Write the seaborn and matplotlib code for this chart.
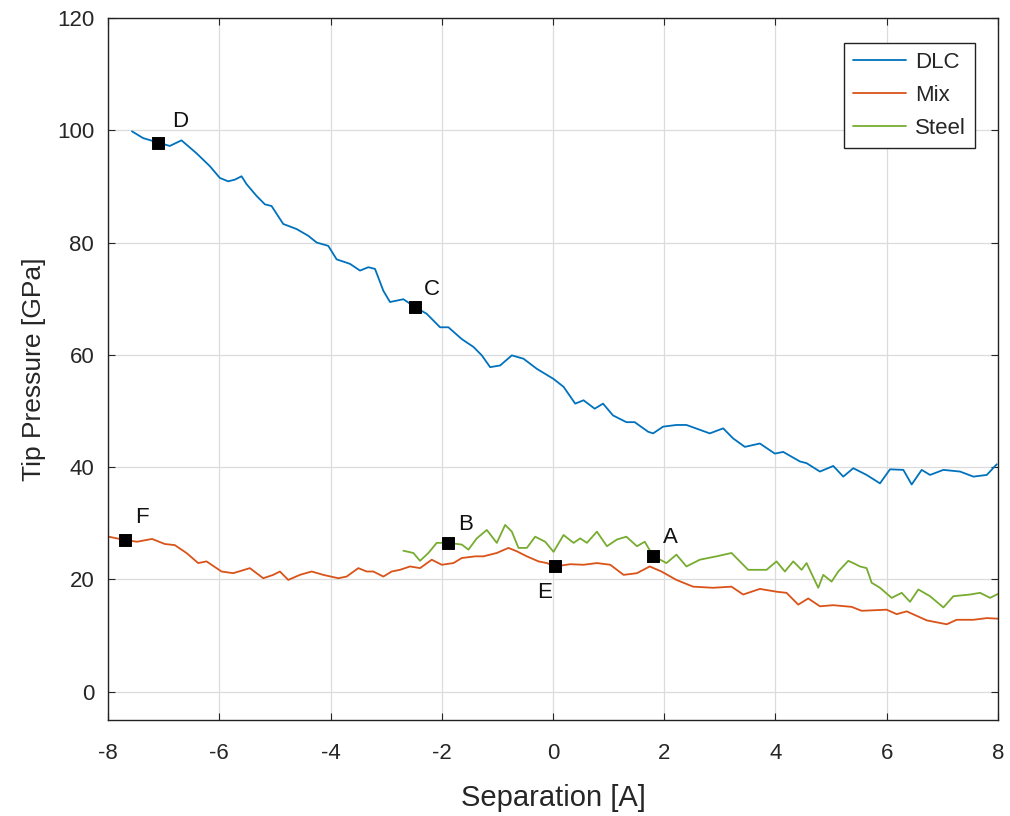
import matplotlib
matplotlib.use("Agg")
import matplotlib.pyplot as plt
import seaborn as sns
import pandas as pd
import numpy as np

# DLC curve (separation [A], tip pressure [GPa])
dlc_x = [-7.57, -7.37, -7.10, -6.89, -6.68, -6.41, -6.17, -5.99, -5.84, -5.72, -5.60, -5.51,
         -5.33, -5.18, -5.06, -4.85, -4.61, -4.40, -4.25, -4.04, -3.89, -3.65, -3.47, -3.32,
         -3.20, -3.05, -2.93, -2.69, -2.48, -2.27, -2.03, -1.88, -1.64, -1.43, -1.28, -1.13,
         -0.95, -0.74, -0.53, -0.29, 0.01, 0.19, 0.40, 0.55, 0.75, 0.90, 1.08, 1.32, 1.47,
         1.71, 1.80, 1.98, 2.22, 2.40, 2.82, 3.06, 3.24, 3.45, 3.72, 3.99, 4.14, 4.44, 4.56,
         4.80, 5.04, 5.22, 5.40, 5.64, 5.88, 6.06, 6.30, 6.45, 6.63, 6.78, 7.02, 7.32, 7.56,
         7.80, 7.98]
dlc_y = [99.8, 98.6, 97.8, 97.2, 98.2, 95.9, 93.6, 91.5, 90.9, 91.2, 91.8, 90.4,
         88.3, 86.8, 86.5, 83.3, 82.4, 81.2, 80.0, 79.4, 77.0, 76.2, 75.0, 75.6,
         75.3, 71.4, 69.4, 69.9, 68.5, 67.3, 64.9, 64.9, 62.8, 61.4, 59.9, 57.8,
         58.1, 59.9, 59.3, 57.5, 55.7, 54.3, 51.3, 51.9, 50.4, 51.3, 49.2, 48.0, 48.0,
         46.3, 46.0, 47.2, 47.5, 47.5, 46.0, 46.9, 45.1, 43.6, 44.2, 42.4, 42.7, 41.0, 40.7,
         39.2, 40.2, 38.3, 39.8, 38.6, 37.1, 39.6, 39.5, 36.9, 39.5, 38.6, 39.5, 39.2, 38.3,
         38.6, 40.5]

# Mix curve
mix_x = [-7.99, -7.69, -7.48, -7.21, -6.98, -6.80, -6.59, -6.38, -6.23, -5.96, -5.75, -5.45,
         -5.21, -5.03, -4.91, -4.76, -4.55, -4.34, -4.13, -3.86, -3.71, -3.50, -3.35, -3.23,
         -3.05, -2.90, -2.75, -2.57, -2.39, -2.18, -2.00, -1.79, -1.64, -1.40, -1.25, -1.01,
         -0.80, -0.65, -0.47, -0.26, -0.11, 0.04, 0.31, 0.55, 0.79, 1.03, 1.27, 1.51, 1.74,
         1.95, 2.22, 2.52, 2.88, 3.21, 3.42, 3.72, 4.02, 4.20, 4.41, 4.59, 4.80, 5.04, 5.37,
         5.55, 6.00, 6.18, 6.36, 6.72, 7.08, 7.26, 7.56, 7.80, 8.00]
mix_y = [27.6, 27.0, 26.7, 27.2, 26.3, 26.1, 24.7, 22.9, 23.2, 21.4, 21.1, 22.0,
         20.2, 20.8, 21.4, 19.9, 20.8, 21.4, 20.8, 20.2, 20.5, 22.0, 21.4, 21.4,
         20.5, 21.4, 21.7, 22.3, 22.0, 23.5, 22.6, 22.9, 23.8, 24.1, 24.1, 24.7,
         25.6, 25.0, 24.1, 23.2, 22.9, 22.3, 22.7, 22.6, 22.9, 22.6, 20.8, 21.1, 22.3,
         21.4, 19.9, 18.7, 18.5, 18.7, 17.3, 18.3, 17.8, 17.6, 15.5, 16.6, 15.2, 15.4, 15.1,
         14.4, 14.6, 13.8, 14.3, 12.7, 12.0, 12.8, 12.8, 13.1, 13.0]

# Steel curve
steel_x = [-2.69, -2.51, -2.39, -2.24, -2.09, -1.88, -1.64, -1.52, -1.37, -1.19, -1.01, -0.86,
           -0.74, -0.62, -0.47, -0.32, -0.14, 0.01, 0.19, 0.37, 0.49, 0.61, 0.79, 0.97, 1.15,
           1.32, 1.51, 1.65, 1.80, 2.04, 2.22, 2.40, 2.64, 2.94, 3.21, 3.51, 3.84, 4.02, 4.17,
           4.32, 4.47, 4.56, 4.77, 4.86, 5.01, 5.13, 5.31, 5.40, 5.52, 5.64, 5.73, 5.88, 6.09,
           6.27, 6.42, 6.57, 6.78, 7.02, 7.20, 7.50, 7.68, 7.86, 8.00]
steel_y = [25.1, 24.7, 23.3, 24.7, 26.5, 26.5, 26.2, 25.3, 27.3, 28.8, 26.5, 29.7,
           28.5, 25.6, 25.6, 27.6, 26.7, 24.9, 27.9, 26.5, 27.3, 26.5, 28.5, 25.9, 27.1,
           27.6, 25.9, 26.7, 24.2, 22.9, 24.4, 22.3, 23.5, 24.1, 24.7, 21.7, 21.7, 23.2, 21.4,
           23.2, 21.7, 22.9, 18.5, 20.8, 19.6, 21.4, 23.3, 22.9, 22.3, 22.0, 19.4, 18.5, 16.7,
           17.6, 16.0, 18.2, 17.0, 15.0, 17.0, 17.3, 17.6, 16.7, 17.4]

# labelled points
point_labels = ["A", "B", "C", "D", "E", "F"]
point_x = [1.80, -1.88, -2.48, -7.10, 0.04, -7.69]
point_y = [24.2, 26.5, 68.5, 97.8, 22.3, 27.0]

series_names = ["DLC", "Mix", "Steel"]
series_colors = ["#0072BD", "#D95319", "#77AC30"]

df = pd.concat([
    pd.DataFrame({"sep": dlc_x, "p": dlc_y, "series": "DLC"}),
    pd.DataFrame({"sep": mix_x, "p": mix_y, "series": "Mix"}),
    pd.DataFrame({"sep": steel_x, "p": steel_y, "series": "Steel"}),
], ignore_index=True)
pts = pd.DataFrame({"sep": point_x, "p": point_y, "label": point_labels})

sns.set_style("whitegrid")
plt.rcParams['font.family'] = ['Liberation Sans', 'DejaVu Sans']
plt.rcParams['axes.unicode_minus'] = False

fig = plt.figure(figsize=(10.1, 8.16), dpi=100)
ax = fig.add_axes([0.107, 0.118, 0.881, 0.860])

sns.lineplot(data=df, x="sep", y="p", hue="series", hue_order=series_names,
             palette=series_colors, linewidth=1.3, sort=False, estimator=None, ax=ax)
sns.scatterplot(data=pts, x="sep", y="p", marker="s", color="black", s=70,
                edgecolor="black", zorder=5, legend=False, ax=ax)

# label offsets in points
offsets = {"A": (7, 9), "B": (7, 9), "C": (6, 9), "D": (10, 11), "E": (-13, -23), "F": (7, 12)}
for lab, x, y in zip(point_labels, point_x, point_y):
    ax.annotate(lab, (x, y), xytext=offsets[lab], textcoords="offset points",
                fontsize=16, color="#111111")

ax.set_xlim(-8, 8)
ax.set_ylim(-5, 120)
ax.set_xticks(np.arange(-8, 9, 2))
ax.set_yticks(np.arange(0, 121, 20))
ax.set_xlabel("Separation [A]", fontsize=21, color="#262626", labelpad=14)
ax.set_ylabel("Tip Pressure [GPa]", fontsize=19, color="#262626", labelpad=8)
ax.tick_params(axis="both", direction="in", length=5, labelsize=16, colors="#262626",
               left=True, bottom=True, right=True, top=True, labelright=False, labeltop=False)
ax.tick_params(axis="x", pad=17)
ax.tick_params(axis="y", pad=10)
ax.grid(True, color="#dcdcdc", linewidth=0.9)
for s in ax.spines.values():
    s.set_visible(True)
    s.set_color("#222222")
    s.set_linewidth(1.0)

leg = ax.legend(loc="upper right", fontsize=16, frameon=True, fancybox=False,
                handlelength=2.4, handletextpad=0.4, borderpad=0.4, labelspacing=0.55,
                bbox_to_anchor=(0.9865, 0.9805))
leg.get_frame().set_edgecolor("#222222")
leg.get_frame().set_linewidth(1.0)
leg.get_frame().set_alpha(1.0)
leg.set_title(None)

fig.savefig("out.png", dpi=100)
